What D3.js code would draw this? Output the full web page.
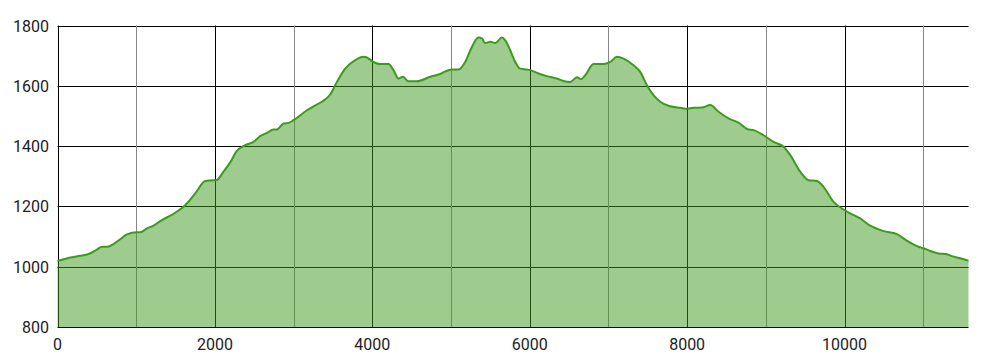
<!DOCTYPE html>
<html>
<head>
<meta charset="utf-8">
<script src="https://cdn.jsdelivr.net/npm/d3@7"></script>
<style>
  html, body { margin: 0; padding: 0; background: #fff; }
  svg { display: block; }
  text { font-family: Roboto, "Noto Sans", sans-serif; font-size: 16px; fill: #222; }
</style>
</head>
<body>
<svg id="chart" width="990" height="360"></svg>
<script>
const distance = [0,183,288,394,501,564,628,797,882,1009,1051,1136,1220,1305,1496,1623,1750,1877,1982,2016,2109,2194,2279,2385,2490,2575,2661,2744,2788,2872,2935,2999,3169,3253,3359,3465,3550,3655,3783,3888,3931,4015,4100,4206,4269,4333,4389,4460,4567,4736,4863,4948,5032,5095,5180,5265,5349,5392,5434,5498,5561,5647,5689,5752,5816,5879,5964,6006,6112,6218,6345,6429,6514,6600,6650,6705,6810,6937,7023,7108,7192,7319,7404,7489,7573,7658,7785,7912,7997,8081,8188,8293,8399,8526,8653,8767,8843,8970,9098,9225,9310,9437,9542,9649,9733,9860,9967,10072,10199,10326,10495,10665,10793,10940,11003,11089,11194,11301,11364,11470,11575];
const elevation = [1019,1031,1036,1042,1057,1066,1066,1091,1107,1114,1114,1127,1136,1151,1179,1204,1243,1284,1287,1287,1315,1346,1384,1403,1414,1433,1444,1455,1455,1475,1477,1486,1519,1532,1547,1571,1613,1657,1685,1696,1694,1679,1672,1672,1652,1624,1630,1615,1615,1630,1639,1650,1654,1654,1679,1729,1760,1757,1742,1746,1742,1760,1751,1718,1679,1657,1654,1652,1641,1632,1624,1616,1613,1628,1622,1635,1672,1672,1679,1696,1690,1668,1646,1602,1569,1547,1532,1527,1524,1527,1528,1536,1514,1492,1478,1456,1453,1436,1414,1398,1370,1315,1287,1284,1265,1215,1193,1177,1160,1136,1118,1108,1086,1066,1061,1052,1044,1041,1035,1028,1020];
const xTicks = [0,2000,4000,6000,8000,10000];
const xMinorTicks = [1000,3000,5000,7000,9000,11000];
const yTicks = [800,1000,1200,1400,1600,1800];

const data = distance.map((d, i) => ({x: d, y: elevation[i]}));

const svg = d3.select("#chart");
const mLeft = 57.5, mRight = 968.5, mTop = 25.5, mBottom = 327;
const x = d3.scaleLinear().domain([0, 11575]).range([mLeft, mRight]);
const y = d3.scaleLinear().domain([800, 1800]).range([mBottom, mTop]);

const grid = svg.append("g");
grid.selectAll("line.h").data(yTicks).join("line")
  .attr("x1", mLeft).attr("x2", mRight)
  .attr("y1", d => Math.round(y(d)) + 0.5).attr("y2", d => Math.round(y(d)) + 0.5)
  .attr("stroke", "#000").attr("stroke-width", 1);
grid.selectAll("line.vmaj").data(xTicks).join("line")
  .attr("x1", d => Math.round(x(d)) + 0.5).attr("x2", d => Math.round(x(d)) + 0.5)
  .attr("y1", mTop).attr("y2", mBottom)
  .attr("stroke", "#000").attr("stroke-width", 1);
grid.selectAll("line.vmin").data(xMinorTicks).join("line")
  .attr("x1", d => Math.round(x(d)) + 0.5).attr("x2", d => Math.round(x(d)) + 0.5)
  .attr("y1", mTop).attr("y2", mBottom)
  .attr("stroke", "#888").attr("stroke-width", 1);

const green = "#3d9a1e";
const area = d3.area().x(d => x(d.x)).y0(y(800)).y1(d => y(d.y)).curve(d3.curveMonotoneX);
const line = d3.line().x(d => x(d.x)).y(d => y(d.y)).curve(d3.curveMonotoneX);

svg.append("path").datum(data).attr("d", area)
  .attr("fill", green).attr("fill-opacity", 0.5);
svg.append("path").datum(data).attr("d", line)
  .attr("fill", "none").attr("stroke", green).attr("stroke-width", 2);

svg.append("g").selectAll("text").data(yTicks).join("text")
  .attr("x", 49).attr("y", d => y(d) + 6)
  .attr("text-anchor", "end").text(d => d);
svg.append("g").selectAll("text").data(xTicks).join("text")
  .attr("x", d => x(d)).attr("y", 350)
  .attr("text-anchor", "middle").text(d => d);
</script>
</body>
</html>
